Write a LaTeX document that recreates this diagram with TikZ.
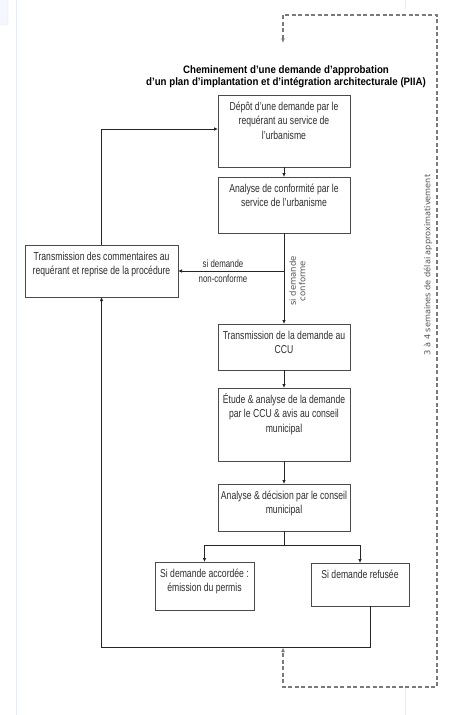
\documentclass[tikz,border=0pt]{standalone}
\usepackage{fontspec}
\setmainfont{Liberation Sans}
\newfontfamily\boxfont[FakeStretch=0.75]{Liberation Sans}
\newfontfamily\ttlfont[FakeStretch=0.9]{Liberation Sans}
\newfontfamily\vfont{DejaVu Sans}
\usetikzlibrary{arrows.meta,shadows}
\definecolor{ink}{HTML}{2E2E2E}
\definecolor{edge}{HTML}{4A4A4A}
\definecolor{dashc}{HTML}{7A7A7A}
\definecolor{uiline}{HTML}{E4ECF6}
\definecolor{vtext}{HTML}{555555}
\newcommand\boxtext[3]{\parbox[c][#2][t]{#1}{\centering\boxfont\fontsize{11.5}{14.4}\selectfont\rule{0pt}{15.5pt}#3\par}}
\begin{document}
\begin{tikzpicture}[x=1pt,y=-1pt,
  box/.style={draw=edge, line width=0.9pt, inner sep=0pt, outer sep=0pt, text=ink, fill=white,
    drop shadow={shadow xshift=1pt, shadow yshift=-1pt, fill=black, opacity=0.25}},
  conn/.style={draw=black!85, line width=0.8pt},
  arr/.style={conn, -{Latex[length=4pt,width=3.6pt]}},
  dashconn/.style={draw=dashc, line width=1.1pt, dash pattern=on 4pt off 2.5pt,
    {Latex[length=4.5pt,width=4pt]}-{Latex[length=4.5pt,width=4pt]}},
  lbl/.style={text=ink, inner sep=0pt, align=center, font=\boxfont\fontsize{10.5}{14.5}\selectfont},
  vlbl/.style={text=vtext, inner sep=0pt, align=center, rotate=90}]
\useasboundingbox (0,0) rectangle (448,715);
\fill[white] (0,0) rectangle (448,715);
% faint interface remnants
\draw[uiline, line width=0.8pt] (16,0) -- (16,715);
\filldraw[draw=uiline, fill=uiline!40, rounded corners=2pt] (-4,-4) rectangle (8,25);
\draw[uiline, line width=0.8pt] (405,0) -- (405,9);
\draw[uiline, line width=0.8pt] (405,688) -- (405,715);

% title
\node[inner sep=0pt, align=center, font=\ttlfont\bfseries\fontsize{10.8}{12}\selectfont] (title) at (286,77)
  {Cheminement d’une demande d’approbation\\d’un plan d’implantation et d’intégration architecturale (PIIA)};

% boxes
\node[box] (b1) at (284,131) {\boxtext{132pt}{72pt}{Dépôt d’une demande par le\\requérant au service de\\l’urbanisme}};
\node[box] (b2) at (284,205) {\boxtext{132pt}{56pt}{Analyse de conformité par le\\service de l’urbanisme}};
\node[box] (bl) at (101.5,271) {\boxtext{153pt}{52pt}{Transmission des commentaires au\\requérant et reprise de la procédure}};
\node[box] (b3) at (284,347) {\boxtext{132pt}{46pt}{Transmission de la demande au\\CCU}};
\node[box] (b4) at (284,424.5) {\boxtext{132pt}{73pt}{Étude \& analyse de la demande\\par le CCU \& avis au conseil\\municipal}};
\node[box] (b5) at (284,507.5) {\boxtext{132pt}{47pt}{Analyse \& décision par le conseil\\municipal}};
\node[box] (b6) at (204.5,586) {\boxtext{99pt}{48pt}{Si demande accordée :\\émission du permis}};
\node[box] (b7) at (360,584.5) {\boxtext{98pt}{43pt}{Si demande refusée}};

% main flow
\draw[arr] (b1.south) -- (b2.north);
\draw[arr] (b2.south) -- (b3.north);
\draw[arr] (b3.south) -- (b4.north);
\draw[arr] (b4.south) -- (b5.north);
\coordinate (nc) at (b2.south |- bl.east);
\draw[arr] (nc) -- (bl.east);
\node[lbl] (lnc) at (223,271) {si demande\\non-conforme};
\node[vlbl, font=\vfont\fontsize{8.5}{9.5}\selectfont] (lc) at (297.5,281) {si demande\\conforme};

% decision branch
\coordinate (br) at (284,545);
\draw[conn] (b5.south) -- (br);
\draw[arr] (br) -| (b6.north);
\draw[arr] (br) -| (b7.north);

% return loop
\coordinate (rb) at (370,647);
\draw[arr] (b7.south -| rb) -- (rb) -| (bl.south);
\draw[arr] (bl.north) |- ([yshift=2pt]b1.west);

% dashed timing loop
\coordinate (dtop) at (283,43);
\coordinate (dbot) at (283,647.5);
\draw[dashconn] (dtop) -- (283,15) -- (437,15) -- (437,687) -- (283,687) -- (dbot);
\node[vlbl, font=\vfont\fontsize{8.2}{10}\selectfont] (delai) at (428,265) {3 à 4 semaines de délai approximativement};
\end{tikzpicture}
\end{document}
